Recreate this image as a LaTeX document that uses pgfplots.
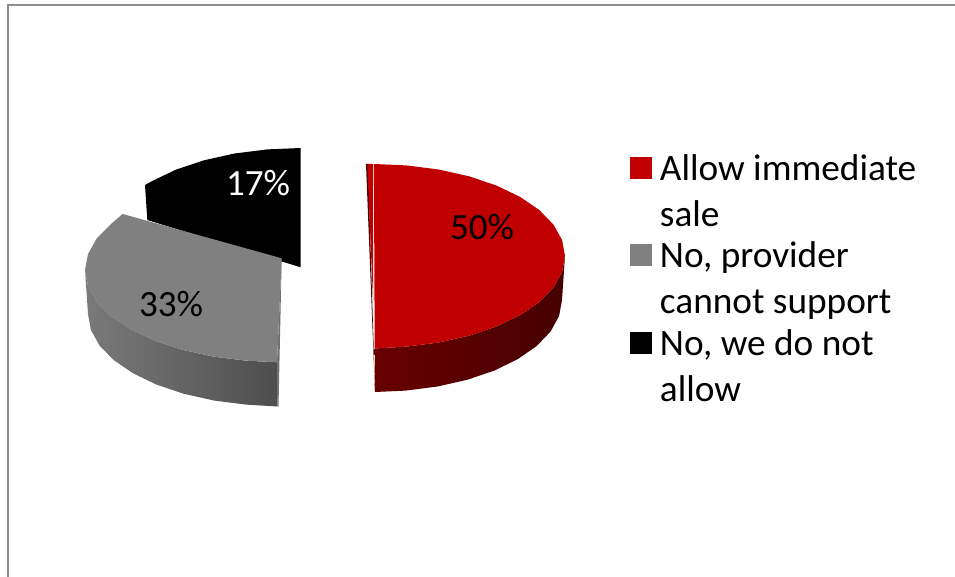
\documentclass[border=0pt]{standalone}
\usepackage{pgfplots}
\pgfplotsset{compat=1.18}
\usepackage{fontspec}
\setmainfont{Carlito}
\definecolor{sliceRed}{HTML}{C00000}
\definecolor{sliceGray}{HTML}{808080}
\definecolor{frameGray}{HTML}{8E8E8E}
\newcommand{\legendswatch}[1]{\addlegendimage{legend image code/.code={\fill[#1] (0pt,9.8pt) rectangle (21pt,30.8pt);}}}
\begin{document}
\begin{tikzpicture}
\begin{axis}[
  scale only axis, width=955pt, height=577pt,
  xmin=0, xmax=955, ymin=0, ymax=577, y dir=reverse,
  axis lines=none, clip=true,
  legend style={
    at={(0.6597,0.7438)}, anchor=north west,
    draw=none, fill=none, inner sep=0pt, outer sep=0pt,
    row sep=8pt, column sep=8.5pt,
    nodes={inner sep=0pt, outer sep=0pt, align=left,
      font=\fontsize{37.3}{46}\selectfont},
  },
  legend cell align=left,
]
% page extent
\addplot[draw=none, forget plot] coordinates {(0,0) (955,577)};
% outer frame
\addplot[frameGray, line width=2pt, forget plot] coordinates {(8,577) (8,5.5) (955,5.5)};

% 17% slice
\addplot[draw=none, fill=black, forget plot] coordinates {
  (145,185) (147.3,220) (300.7,267.3) (300.7,148) (267.3,149.4) (234.6,153.5)
  (204,160.3) (176.3,169.5) (152.4,180.9)} --cycle;

% 33% slice: outer wall, cut face, top
\addplot[draw=none, forget plot, shading angle=90,
  left color={rgb,255:red,122;green,122;blue,122}, right color={rgb,255:red,78;green,78;blue,78}] coordinates {
  (85,270) (88,286) (96.7,301.5) (111,316) (130.4,329.1) (154.3,340.5) (182,349.7)
  (212.7,356.5) (245.3,360.6) (277,362.3) (277.3,406.5) (245.8,404.6) (213.7,400.5)
  (183.5,393.7) (156.2,384.5) (132.7,373.1) (113.6,360) (99.5,345.5) (90.9,330) (88,314)} --cycle;
\addplot[draw=none, fill={rgb,255:red,112;green,112;blue,112}, forget plot] coordinates {
  (281.7,258.3) (277,362.3) (277.3,406.5) (278.5,406.5)} --cycle;
\addplot[draw=none, fill=sliceGray, forget plot] coordinates {
  (122.7,214) (111,224) (96.7,238.5) (88,254) (85,270) (88,286) (96.7,301.5) (111,316)
  (130.4,329.1) (154.3,340.5) (182,349.7) (212.7,356.5) (245.3,360.6) (277,362.3) (281.7,258.3)} --cycle;

% 50% slice: cut face, outer wall, top
\addplot[draw=none, fill={rgb,255:red,80;green,0;blue,0}, forget plot] coordinates {
  (366,164) (368,164) (373.5,341) (375,392)} --cycle;
\addplot[draw=none, fill=sliceRed, forget plot] coordinates {
  (367.3,164) (373,164) (373,300)} --cycle;
\addplot[draw=none, forget plot, shading angle=90,
  left color={rgb,255:red,104;green,0;blue,0}, right color={rgb,255:red,70;green,0;blue,0}] coordinates {
  (374.7,348.5) (406.3,346.6) (438.7,342.5) (469,335.7) (496.4,326.5) (520.1,315.1)
  (539.3,302) (553.4,287.5) (562.1,272) (565,256) (562,300) (559.1,316) (550.6,331.5)
  (536.7,346) (517.8,359.1) (494.5,370.5) (467.5,379.7) (437.6,386.5) (405.8,390.6) (375,392)} --cycle;
\addplot[draw=none, fill=sliceRed, forget plot] coordinates {
  (373.9,164) (406.3,165.4) (438.7,169.5) (469,176.3) (496.4,185.5) (520.1,196.9)
  (539.3,210) (553.4,224.5) (562.1,240) (565,256) (562.1,272) (553.4,287.5) (539.3,302)
  (520.1,315.1) (496.4,326.5) (469,335.7) (438.7,342.5) (406.3,346.6) (374.7,348.5)} --cycle;

% share labels
\node[font=\fontsize{37}{40}\selectfont, text=black] at (axis cs:482,227) {50\%};
\node[font=\fontsize{37}{40}\selectfont, text=black] at (axis cs:171,304) {33\%};
\node[font=\fontsize{37}{40}\selectfont, text=white] at (axis cs:258,183) {17\%};

% legend
\legendswatch{sliceRed}
\addlegendentry{\strut Allow immediate\\\strut sale}
\legendswatch{sliceGray}
\addlegendentry{\strut No, provider\\\strut cannot support}
\legendswatch{black}
\addlegendentry{\strut No, we do not\\\strut allow}
\end{axis}
\end{tikzpicture}
\end{document}
